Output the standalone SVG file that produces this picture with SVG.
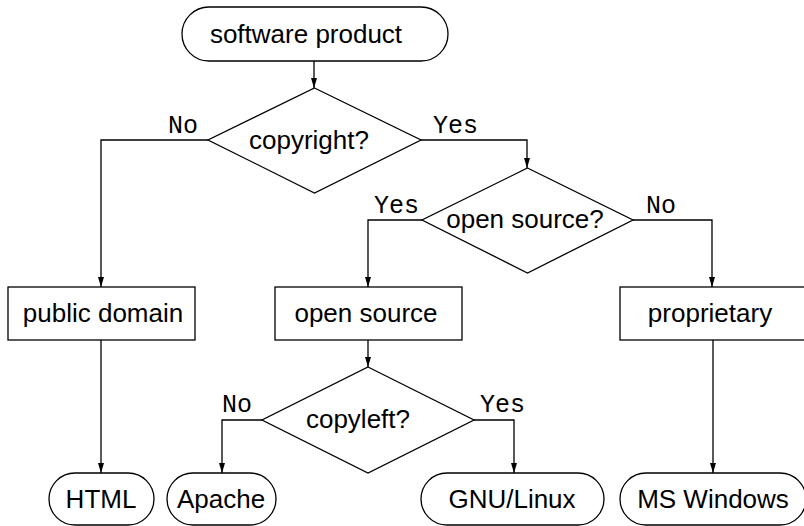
<svg xmlns="http://www.w3.org/2000/svg" width="804" height="526" viewBox="0 0 804 526">
<defs>
<marker id="ah" viewBox="0 0 10 10" refX="10" refY="5" markerWidth="10" markerHeight="10" markerUnits="userSpaceOnUse" orient="auto">
<path d="M0,2 L10,5 L0,8 Z" fill="#000"/>
</marker>
</defs>
<style>
.s{fill:#fff;stroke:#000;stroke-width:1.3}
.t{font-family:"Liberation Sans",Arial,sans-serif;font-size:26px;fill:#000;text-anchor:middle}
.l{font-family:"Liberation Mono","Courier New",monospace;font-size:25px;fill:#000}
.c{fill:none;stroke:#000;stroke-width:1.3;marker-end:url(#ah)}
</style>
<rect width="804" height="526" fill="#fff"/>
<g id="connectors">
<path class="c" d="M314,61 V88"/>
<path class="c" d="M208,140 H101 V287"/>
<path class="c" d="M421,140 H527 V168"/>
<path class="c" d="M422,220 H368 V287"/>
<path class="c" d="M633,220 H712 V287"/>
<path class="c" d="M101,340 V473"/>
<path class="c" d="M368,340 V367"/>
<path class="c" d="M262,420 H222 V473"/>
<path class="c" d="M474,420 H514 V473"/>
<path class="c" d="M713,340 V473"/>
<text class="l" x="168" y="133">No</text>
<text class="l" x="433" y="133">Yes</text>
<text class="l" x="374" y="213">Yes</text>
<text class="l" x="646" y="213">No</text>
<text class="l" x="222" y="412">No</text>
<text class="l" x="480" y="412">Yes</text>
</g>
<g id="software-product">
<rect class="s" x="182" y="7" width="266" height="54" rx="27"/>
<text class="t" x="306" y="43">software product</text>
</g>
<g id="copyright">
<path class="s" d="M314.5,88 L421,140 L314.5,193 L208,140 Z"/>
<text class="t" x="309" y="149">copyright?</text>
</g>
<g id="open-source-q">
<path class="s" d="M527.5,168 L633,220 L527.5,273 L422,220 Z"/>
<text class="t" x="525" y="228">open source?</text>
</g>
<g id="public-domain">
<rect class="s" x="8" y="287" width="187" height="53"/>
<text class="t" x="103" y="322">public domain</text>
</g>
<g id="open-source">
<rect class="s" x="275" y="287" width="187" height="53"/>
<text class="t" x="366" y="322">open source</text>
</g>
<g id="proprietary">
<rect class="s" x="620" y="287" width="187" height="53"/>
<text class="t" x="710" y="322">proprietary</text>
</g>
<g id="copyleft">
<path class="s" d="M368,367 L474,420 L368,473 L262,420 Z"/>
<text class="t" x="358" y="428">copyleft?</text>
</g>
<g id="html">
<rect class="s" x="49" y="473" width="105" height="52" rx="26"/>
<text class="t" x="101" y="508">HTML</text>
</g>
<g id="apache">
<rect class="s" x="167" y="473" width="109" height="52" rx="26"/>
<text class="t" x="221" y="508">Apache</text>
</g>
<g id="gnu-linux">
<rect class="s" x="421" y="473" width="183" height="52" rx="26"/>
<text class="t" x="512" y="508">GNU/Linux</text>
</g>
<g id="ms-windows">
<rect class="s" x="620" y="473" width="186" height="52" rx="26"/>
<text class="t" x="713" y="508">MS Windows</text>
</g>
</svg>
